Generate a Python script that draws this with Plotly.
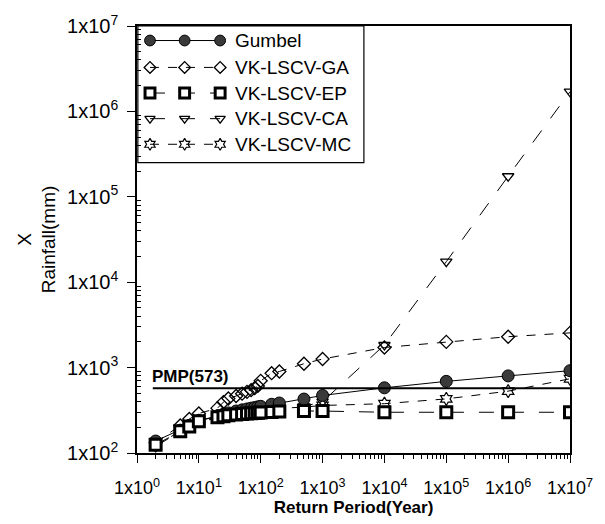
import numpy as np
import plotly.graph_objects as go

# ---- data ----
T = [2, 5, 7, 10, 20, 25, 30, 40, 50, 60, 70, 80, 90, 100, 150, 200, 500, 1000, 1e4, 1e5, 1e6, 1e7]
gumbel = [138, 185, 210, 240, 272, 285, 295, 310, 320, 328, 335, 341, 347, 352, 372, 385, 428, 472, 580, 690, 800, 920]
vk_ga = [132, 210, 250, 290, 335, 395, 435, 465, 495, 520, 545, 575, 610, 700, 860, 900, 1110, 1260, 1720, 2000, 2300, 2550]
vk_ep = [125, 180, 205, 235, 262, 270, 276, 282, 286, 290, 293, 295, 297, 299, 303, 306, 310, 310, 300, 300, 300, 300]
vk_ca = [120, 178, 200, 230, 258, 265, 271, 277, 282, 286, 289, 292, 295, 297, 305, 312, 350, 400, 1840, 17400, 174000, 1.7e6]
vk_mc = [122, 182, 207, 240, 268, 276, 283, 290, 296, 300, 304, 308, 311, 314, 325, 333, 345, 360, 378, 430, 530, 740]
PMP = 573
pmp_x = [1.8, 1e7]
x_ticks = [0, 1, 2, 3, 4, 5, 6, 7]
y_ticks = [2, 3, 4, 5, 6, 7]
names = ["Gumbel", "VK-LSCV-GA", "VK-LSCV-EP", "VK-LSCV-CA", "VK-LSCV-MC"]

FONT = "Liberation Sans, Arial, sans-serif"


def style(nm, scale=1.0):
    s = {
        "Gumbel": dict(line=dict(color="black", width=1, dash="solid"),
                       marker=dict(symbol="circle", size=12 * scale, color="#3a3a3a",
                                   line=dict(color="black", width=1))),
        "VK-LSCV-GA": dict(line=dict(color="black", width=1, dash="dash"),
                           marker=dict(symbol="diamond-open", size=10 * scale, color="black",
                                       line=dict(width=1.3))),
        "VK-LSCV-EP": dict(line=dict(color="black", width=1, dash="longdash"),
                           marker=dict(symbol="square", size=11 * scale, color="white",
                                       line=dict(color="black", width=3))),
        "VK-LSCV-CA": dict(line=dict(color="black", width=1, dash="longdash"),
                           marker=dict(symbol="triangle-down-open", size=10 * scale, color="black",
                                       line=dict(width=1.3))),
        "VK-LSCV-MC": dict(line=dict(color="black", width=1, dash="dash"),
                           marker=dict(symbol="hexagram-open", size=10 * scale, color="black",
                                       line=dict(width=1.2))),
    }
    return s[nm]


series = {"Gumbel": gumbel, "VK-LSCV-GA": vk_ga, "VK-LSCV-EP": vk_ep,
          "VK-LSCV-CA": vk_ca, "VK-LSCV-MC": vk_mc}

fig = go.Figure()
for nm in ["VK-LSCV-GA", "VK-LSCV-CA", "VK-LSCV-MC", "Gumbel", "VK-LSCV-EP"]:
    fig.add_trace(go.Scatter(x=T, y=series[nm], mode="lines+markers", name=nm,
                             showlegend=False, **style(nm)))

# PMP line
fig.add_trace(go.Scatter(x=pmp_x, y=[PMP, PMP], mode="lines", showlegend=False,
                         line=dict(color="black", width=2)))
fig.add_annotation(x=0.03, xref="paper", y=np.log10(PMP), yref="y", text="<b>PMP(573)</b>",
                   showarrow=False, xanchor="left", yanchor="bottom", yshift=0,
                   font=dict(family=FONT, size=17, color="black"))

# custom legend drawn on an overlay axis (0..1 in both directions)
leg_rows = [0.966, 0.903, 0.843, 0.783, 0.723]
leg_x = [0.03, 0.11, 0.192]
for nm, ry in zip(names, leg_rows):
    fig.add_trace(go.Scatter(x=leg_x, y=[ry] * 3, xaxis="x2", yaxis="y2", mode="lines+markers",
                             showlegend=False, hoverinfo="skip", **style(nm, 0.9)))
    fig.add_annotation(x=0.222, y=ry, xref="x2", yref="y2", text=nm, showarrow=False,
                       xanchor="left", yanchor="middle",
                       font=dict(family=FONT, size=19, color="black"))
fig.add_shape(type="rect", xref="paper", yref="paper", x0=0.002, x1=0.524, y0=0.68, y1=1.0,
              line=dict(color="black", width=1.2), fillcolor="rgba(0,0,0,0)")

x_minor = [m * 10 ** d for d in range(0, 7) for m in range(2, 10)]
y_minor = [m * 10 ** d for d in range(2, 7) for m in range(2, 10)]

fig.update_layout(
    width=605, height=524,
    margin=dict(l=137, r=29, t=18, b=71),
    paper_bgcolor="white", plot_bgcolor="white",
    font=dict(family=FONT, size=16, color="black"),
    xaxis=dict(type="log", range=[0, 7], tickmode="array",
               tickvals=[10 ** k for k in x_ticks],
               ticktext=[f"1x10<sup>{k}</sup>" for k in x_ticks],
               ticks="outside", ticklen=8, tickwidth=1, tickcolor="black",
               ticklabelstandoff=10,
               showline=True, linecolor="black", linewidth=1.5, mirror=True,
               showgrid=False, zeroline=False,
               tickfont=dict(family=FONT, size=18),
               minor=dict(tickvals=x_minor, ticks="outside", ticklen=4, tickcolor="black", showgrid=False),
               title=dict(text="<b>Return Period(Year)</b>", font=dict(family=FONT, size=17), standoff=2)),
    yaxis=dict(type="log", range=[2, 7], tickmode="array",
               tickvals=[10 ** k for k in y_ticks],
               ticktext=[f"1x10<sup>{k}</sup>" for k in y_ticks],
               ticks="outside", ticklen=8, tickwidth=1, tickcolor="black",
               ticklabelstandoff=5,
               showline=True, linecolor="black", linewidth=1.5, mirror=True,
               showgrid=False, zeroline=False,
               tickfont=dict(family=FONT, size=20),
               minor=dict(tickvals=y_minor, ticks="inside", ticklen=4, tickcolor="black", showgrid=False),
               title=dict(text="X<br>Rainfall(mm)", font=dict(family=FONT, size=19), standoff=6)),
    xaxis2=dict(overlaying="x", range=[0, 1], visible=False, fixedrange=True),
    yaxis2=dict(overlaying="y", range=[0, 1], visible=False, fixedrange=True),
)

fig.write_html("out.html")
